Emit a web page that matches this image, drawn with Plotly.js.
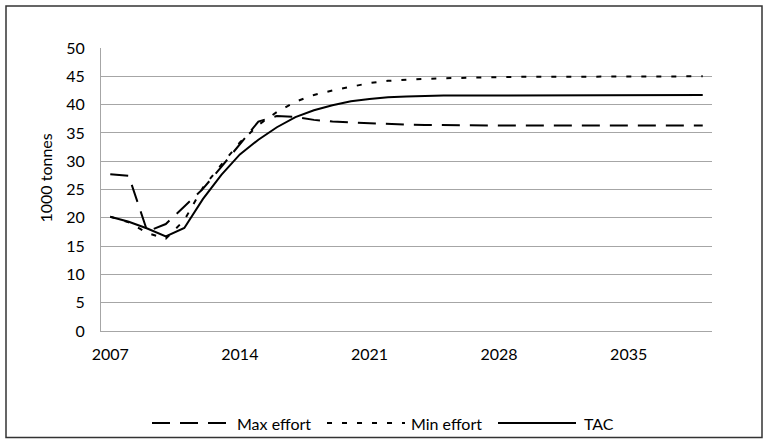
<!DOCTYPE html>
<html>
<head>
<meta charset="utf-8">
<script src="https://cdn.plot.ly/plotly-3.0.1.min.js"></script>
<style>
html,body{margin:0;padding:0;background:#fff;}
#chart{width:763px;height:439px;}
</style>
</head>
<body>
<div id="chart"></div>
<script>
var years = ["2007","2008","2009","2010","2011","2012","2013","2014","2015","2016","2017","2018","2019","2020","2021","2022","2023","2024","2025","2026","2027","2028","2029","2030","2031","2032","2033","2034","2035","2036","2037","2038","2039"];
var maxEffort = [27.7,27.4,17.6,18.9,22.0,25.1,29.0,33.0,37.0,38.0,37.8,37.3,37.0,36.85,36.7,36.55,36.45,36.4,36.35,36.35,36.3,36.3,36.3,36.3,36.3,36.3,36.3,36.3,36.3,36.3,36.3,36.3,36.3];
var minEffort = [20.2,19.2,17.3,16.3,19.6,25.3,29.4,33.3,36.4,38.7,40.5,41.7,42.5,43.2,43.8,44.2,44.4,44.55,44.65,44.75,44.8,44.85,44.9,44.9,44.9,44.95,44.95,44.95,45.0,45.0,45.0,45.0,45.0];
var tac = [20.2,19.3,18.1,16.7,18.2,23.3,27.6,31.2,33.8,36.0,37.8,39.0,39.9,40.6,41.0,41.3,41.45,41.55,41.6,41.6,41.6,41.65,41.65,41.65,41.65,41.7,41.7,41.7,41.7,41.7,41.7,41.7,41.7];
var seriesNames = ["Max effort","Min effort","TAC"];
var tickYears = ["2007","2014","2021","2028","2035"];
var yTitle = "1000 tonnes";

var FONT = "Lato, 'Open Sans', sans-serif";
var FS = 16;
var dashes = ["18px,10px","5px,10px","solid"];

// plot area in pixels
var L = 101, R = 712, T = 48, B = 331;
function px(x){ return (x - L) / (R - L); }
function py(y){ return (B - y) / (B - T); }

var data = [maxEffort, minEffort, tac].map(function(v, i){
  return {x: years, y: v, type: "scatter", mode: "lines", name: seriesNames[i],
          line: {color: "#000", width: 2, dash: dashes[i]}, showlegend: false, hoverinfo: "x+y"};
});

// manual legend (long line samples like the original)
var legendY = py(423);
var legItems = [
  {x0: 152, x1: 227, tx: 235},
  {x0: 327, x1: 405, tx: 409},
  {x0: 498, x1: 576, tx: 582}
];
var shapes = [];
var annotations = [];
legItems.forEach(function(it, i){
  shapes.push({type: "line", xref: "paper", yref: "paper", x0: px(it.x0), x1: px(it.x1), y0: legendY, y1: legendY,
               line: {color: "#000", width: 2, dash: dashes[i]}});
  annotations.push({xref: "paper", yref: "paper", x: px(it.tx), y: legendY, xanchor: "left", yanchor: "middle",
                    text: seriesNames[i], showarrow: false, font: {family: FONT, size: FS, color: "#000"}});
});
// outer frame
shapes.push({type: "rect", xref: "paper", yref: "paper", x0: px(6), x1: px(762), y0: py(437.5), y1: py(6),
             line: {color: "#333", width: 1.5}, fillcolor: "rgba(0,0,0,0)"});
// y axis title
annotations.push({xref: "paper", yref: "paper", x: px(45), y: py(178.5), xanchor: "center", yanchor: "middle",
                  text: yTitle, textangle: -90, showarrow: false, font: {family: FONT, size: FS, color: "#000"}});

var layout = {
  width: 763, height: 439,
  margin: {l: L, r: 763 - R, t: T, b: 439 - B, pad: 0},
  paper_bgcolor: "#fff", plot_bgcolor: "#fff",
  font: {family: FONT, size: FS, color: "#000"},
  showlegend: false,
  xaxis: {type: "category", range: [-0.5, years.length - 0.5], tickmode: "array", tickvals: tickYears, ticktext: tickYears,
          showgrid: false, showline: true, linecolor: "#a6a6a6", linewidth: 1, ticks: "", zeroline: false,
          tickfont: {family: FONT, size: FS, color: "#000"}, ticklabelstandoff: 9},
  yaxis: {range: [0, 50], dtick: 5, tick0: 0, showgrid: true, gridcolor: "#a6a6a6", gridwidth: 1,
          showline: true, linecolor: "#a6a6a6", linewidth: 1, ticks: "", zeroline: false,
          tickfont: {family: FONT, size: FS, color: "#000"}, ticklabelstandoff: 12},
  shapes: shapes,
  annotations: annotations
};

Plotly.newPlot("chart", data, layout, {displayModeBar: false, staticPlot: true});
</script>
</body>
</html>
